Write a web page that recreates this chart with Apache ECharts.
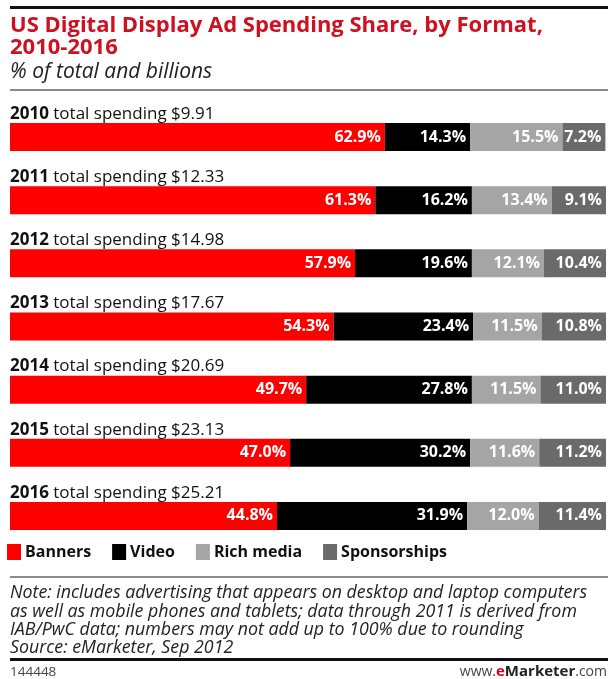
<!DOCTYPE html>
<html>
<head>
<meta charset="utf-8">
<script src="https://cdn.jsdelivr.net/npm/echarts@6/dist/echarts.min.js"></script>
<style>
  html, body { margin: 0; padding: 0; background: #fff; }
  #chart { width: 608px; height: 679px; }
</style>
</head>
<body>
<div id="chart"></div>
<script>
// Years and total spending (billions)
const years = ['2010', '2011', '2012', '2013', '2014', '2015', '2016'];
const totals = ['9.91', '12.33', '14.98', '17.67', '20.69', '23.13', '25.21'];

// Share of total, % by format
const banners      = [62.9, 61.3, 57.9, 54.3, 49.7, 47.0, 44.8];
const video        = [14.3, 16.2, 19.6, 23.4, 27.8, 30.2, 31.9];
const richMedia    = [15.5, 13.4, 12.1, 11.5, 11.5, 11.6, 12.0];
const sponsorships = [7.2, 9.1, 10.4, 10.8, 11.0, 11.2, 11.4];

const seriesNames = ['Banners', 'Video', 'Rich media', 'Sponsorships'];
const seriesColors = ['#ff0000', '#000000', '#a5a5a5', '#6a6a6a'];
const seriesData = [banners, video, richMedia, sponsorships];

const FONT = '"Open Sans", "Noto Sans", sans-serif';

const chart = echarts.init(document.getElementById('chart'), null, { renderer: 'canvas' });

const series = seriesNames.map((name, i) => ({
  name: name,
  type: 'bar',
  stack: 'share',
  barWidth: 28,
  data: seriesData[i],
  itemStyle: { color: seriesColors[i] },
  label: {
    show: true,
    position: 'insideRight',
    distance: 4,
    color: '#fff',
    fontFamily: FONT,
    fontWeight: 'bold',
    fontSize: 16,
    formatter: p => p.value.toFixed(1) + '%'
  },
  emphasis: { disabled: true },
  animation: false
}));

chart.setOption({
  animation: false,
  backgroundColor: '#fff',
  grid: { left: 10, right: 2, top: 105.5, bottom: 131.5 },
  xAxis: {
    type: 'value', min: 0, max: 100,
    show: false
  },
  yAxis: {
    type: 'category',
    data: years,
    inverse: true,
    axisLine: { show: false },
    axisTick: { show: false },
    splitLine: { show: false },
    axisLabel: {
      inside: true,
      margin: 0,
      align: 'left',
      verticalAlign: 'bottom',
      padding: [0, 0, 13, 0],
      formatter: (v, idx) => '{y|' + v + '} total spending $' + totals[idx],
      color: '#111',
      fontFamily: FONT,
      fontSize: 17,
      lineHeight: 20,
      rich: {
        y: { fontFamily: FONT, fontWeight: 'bold', fontSize: 17, color: '#111', lineHeight: 20 }
      }
    }
  },
  legend: {
    left: 7, top: 544,
    icon: 'rect',
    itemWidth: 14, itemHeight: 16,
    itemGap: 21,
    padding: 0,
    selectedMode: false,
    data: seriesNames,
    textStyle: { fontFamily: FONT, fontWeight: 'bold', fontSize: 16, color: '#111', padding: [0, 0, 0, -1] }
  },
  series: series,
  graphic: [
    { type: 'rect', silent: true, shape: { x: 10, y: 6, width: 598, height: 3 }, style: { fill: '#111' } },
    { type: 'text', silent: true, style: {
        x: 10, y: 15,
        text: 'US Digital Display Ad Spending Share, by Format,\n2010-2016',
        fill: '#cf1020', fontFamily: FONT, fontWeight: 'bold', fontSize: 22, lineHeight: 21.5
    } },
    { type: 'text', silent: true, style: {
        x: 10, y: 62, text: '% of total and billions',
        fill: '#222', fontFamily: FONT, fontStyle: 'italic', fontSize: 21
    } },
    { type: 'rect', silent: true, shape: { x: 10, y: 89, width: 598, height: 2 }, style: { fill: '#8a8a8a' } },
    { type: 'rect', silent: true, shape: { x: 10, y: 576, width: 598, height: 2 }, style: { fill: '#8a8a8a' } },
    { type: 'text', silent: true, style: {
        x: 10, y: 584,
        text: 'Note: includes advertising that appears on desktop and laptop computers\n' +
              'as well as mobile phones and tablets; data through 2011 is derived from\n' +
              'IAB/PwC data; numbers may not add up to 100% due to rounding\n' +
              'Source: eMarketer, Sep 2012',
        fill: '#222', fontFamily: FONT, fontStyle: 'italic', fontSize: 17.8, lineHeight: 18.4
    } },
    { type: 'rect', silent: true, shape: { x: 10, y: 658, width: 598, height: 3 }, style: { fill: '#111' } },
    { type: 'text', silent: true, style: {
        x: 10, y: 672, verticalAlign: 'middle', text: '144448',
        fill: '#444', fontFamily: FONT, fontSize: 13.5
    } },
    { type: 'text', silent: true, style: {
        x: 607, y: 672, align: 'right', verticalAlign: 'middle',
        text: '{a|www.}{e|e}{m|Marketer}{a|.com}',
        fontFamily: FONT, fontSize: 14,
        rich: {
          a: { fill: '#444', fontFamily: FONT, fontSize: 14 },
          e: { fill: '#e0001b', fontFamily: FONT, fontSize: 15, fontWeight: 'bold' },
          m: { fill: '#222', fontFamily: FONT, fontSize: 15, fontWeight: 'bold' }
        }
    } }
  ]
});
</script>
</body>
</html>
